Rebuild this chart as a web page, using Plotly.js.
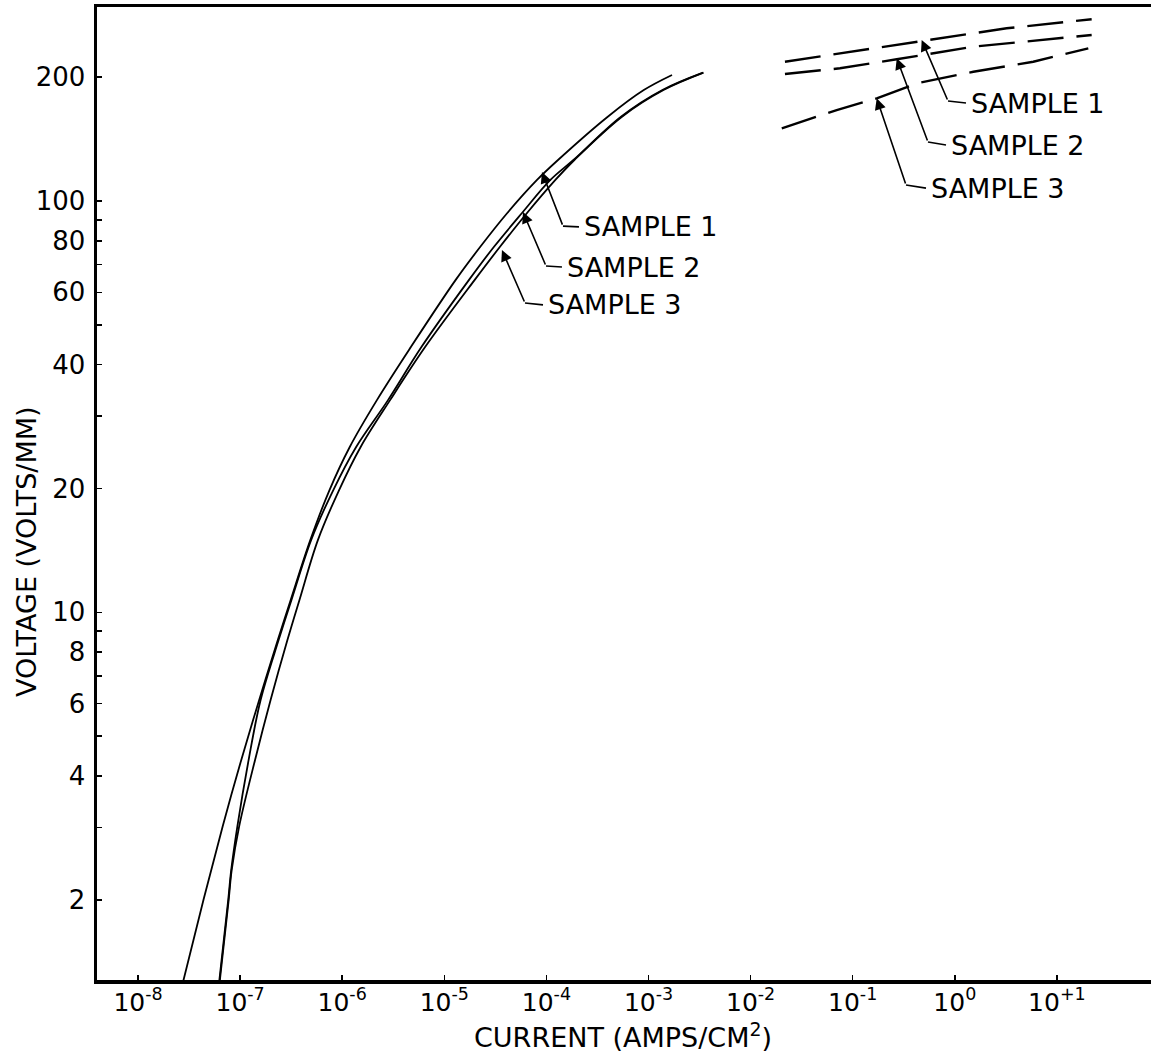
<!DOCTYPE html>
<html>
<head>
<meta charset="utf-8">
<script src="https://cdn.plot.ly/plotly-3.0.1.min.js"></script>
<style>html,body{margin:0;padding:0;background:#fff;}#chart{width:1151px;height:1064px;}</style>
</head>
<body>
<div id="chart"></div>
<script>
// ---- Data ----
// Solid curves: current (A/cm^2) vs voltage (V/mm)
const voltage1 = [1.25, 2.0, 3.02, 4.37, 6.12, 8.56, 10.7, 15.0, 19.8, 25.2, 32.8, 44.2, 64.3, 77.4, 93.5, 112.5, 125.8, 160.3, 186.1, 202.5];
const current1 = [2.734e-8, 4.38e-8, 6.755e-8, 1.025e-7, 1.538e-7, 2.340e-7, 3.123e-7, 4.88e-7, 7.49e-7, 1.182e-6, 2.187e-6, 4.72e-6, 1.293e-5, 2.252e-5, 4.14e-5, 8.09e-5, 1.299e-4, 3.99e-4, 8.99e-4, 1.699e-3];

const voltage2 = [1.25, 2.0, 2.36, 3.02, 4.37, 6.12, 8.56, 10.7, 15.0, 19.8, 25.2, 32.8, 44.2, 64.3, 77.4, 93.5, 112.5, 125.8, 160.3, 186.1, 205.1];
const current2 = [6.21e-8, 7.65e-8, 8.18e-8, 9.41e-8, 1.211e-7, 1.588e-7, 2.383e-7, 3.179e-7, 4.97e-7, 8.16e-7, 1.365e-6, 2.809e-6, 5.99e-6, 1.746e-5, 3.068e-5, 5.77e-5, 1.094e-4, 1.839e-4, 5.38e-4, 1.368e-3, 3.42e-3];

const voltage3 = [1.25, 2.0, 2.36, 3.02, 4.37, 6.12, 8.56, 10.7, 15.0, 19.8, 25.2, 32.8, 44.2, 64.3, 77.4, 93.5, 112.5, 125.8, 160.3, 186.1, 205.1];
const current3 = [6.28e-8, 7.73e-8, 8.27e-8, 9.80e-8, 1.399e-7, 1.989e-7, 2.906e-7, 3.808e-7, 5.79e-7, 9.30e-7, 1.511e-6, 2.944e-6, 6.51e-6, 1.985e-5, 3.51e-5, 6.46e-5, 1.225e-4, 1.880e-4, 5.50e-4, 1.403e-3, 3.46e-3];

// Dashed curves (high-current region)
const dashCurrent1 = [2.17e-2, 7.51e-2, 0.474, 3.22, 21.9];
const dashVoltage1 = [218.1, 228.6, 245.3, 263.0, 276.6];
const dashCurrent2 = [2.17e-2, 7.51e-2, 0.270, 1.52, 21.9];
const dashVoltage2 = [203.6, 210.2, 221.1, 237.2, 253.3];
const dashCurrent3 = [2.02e-2, 6.97e-2, 0.172, 0.424, 1.52, 5.87, 20.3];
const dashVoltage3 = [150.2, 166.4, 177.7, 193.2, 206.2, 218.1, 235.1];

// Tick labels
const xTickVals = [1e-8, 1e-7, 1e-6, 1e-5, 1e-4, 1e-3, 1e-2, 1e-1, 1e0, 1e1];
const xTickText = ['10<sup>-8</sup>', '10<sup>-7</sup>', '10<sup>-6</sup>', '10<sup>-5</sup>', '10<sup>-4</sup>', '10<sup>-3</sup>', '10<sup>-2</sup>', '10<sup>-1</sup>', '10<sup>0</sup>', '10<sup>+1</sup>'];
const yTickVals = [2, 4, 6, 8, 10, 20, 40, 60, 80, 100, 200];
const yTickText = ['2', '4', '6', '8', '10', '20', '40', '60', '80', '100', '200'];
const yMinorVals = [3, 5, 7, 9, 30, 50, 70, 90];

// Callout labels: text, arrow tip, knee, end of horizontal leader
const labelText = ['SAMPLE 1', 'SAMPLE 2', 'SAMPLE 3', 'SAMPLE 1', 'SAMPLE 2', 'SAMPLE 3'];
const tipI  = [9.05e-5, 5.90e-5, 3.67e-5, 0.474, 0.270, 0.1718];
const tipV  = [117.6, 94.0, 76.0, 246.3, 222.3, 177.7];
const kneeI = [1.454e-4, 9.91e-5, 6.17e-5, 0.858, 0.546, 0.3327];
const kneeV = [86.9, 69.5, 56.5, 175.0, 139.1, 109.4];
const endI  = [2.085e-4, 1.42e-4, 9.26e-5, 1.287, 0.820, 0.522];
const endV  = [86.5, 69.1, 55.9, 173.1, 136.8, 107.5];

// ---- Build ----
const FONT = 'DejaVu Sans, Liberation Sans, sans-serif';
const solid = {color: '#000', width: 1.8, shape: 'spline', smoothing: 1.0};
const dashed = {color: '#000', width: 2.4, dash: '36px,13px'};

const traces = [
  {x: current1, y: voltage1, mode: 'lines', line: solid, name: 'Sample 1'},
  {x: current2, y: voltage2, mode: 'lines', line: solid, name: 'Sample 2'},
  {x: current3, y: voltage3, mode: 'lines', line: solid, name: 'Sample 3'},
  {x: dashCurrent1, y: dashVoltage1, mode: 'lines', line: dashed, name: 'Sample 1 (high)'},
  {x: dashCurrent2, y: dashVoltage2, mode: 'lines', line: dashed, name: 'Sample 2 (high)'},
  {x: dashCurrent3, y: dashVoltage3, mode: 'lines', line: dashed, name: 'Sample 3 (high)'}
];

// leader horizontals
const lx = [], ly = [];
for (let i = 0; i < labelText.length; i++) {
  lx.push(kneeI[i], endI[i], null);
  ly.push(kneeV[i], endV[i], null);
}
traces.push({x: lx, y: ly, mode: 'lines', line: {color: '#000', width: 1.6}, hoverinfo: 'skip'});

const annotations = [];
for (let i = 0; i < labelText.length; i++) {
  annotations.push({
    x: Math.log10(tipI[i]), y: Math.log10(tipV[i]), xref: 'x', yref: 'y',
    ax: Math.log10(kneeI[i]), ay: Math.log10(kneeV[i]), axref: 'x', ayref: 'y',
    text: '', showarrow: true, arrowhead: 2, arrowsize: 1.4, arrowwidth: 1.6, arrowcolor: '#000', standoff: 0
  });
  annotations.push({
    x: Math.log10(endI[i]), y: Math.log10(endV[i]), xref: 'x', yref: 'y',
    text: labelText[i], showarrow: false, xanchor: 'left', yanchor: 'middle', xshift: 3,
    font: {family: FONT, size: 27, color: '#000'}
  });
}
annotations.push({
  text: 'VOLTAGE (VOLTS/MM)', xref: 'paper', yref: 'paper', x: -0.0674, y: 0.4409,
  textangle: -90, showarrow: false, xanchor: 'center', yanchor: 'middle',
  font: {family: FONT, size: 27, color: '#000'}
});
annotations.push({
  text: 'CURRENT (AMPS/CM<sup>2</sup>)', xref: 'paper', yref: 'paper', x: 0.4986, y: -0.0575,
  showarrow: false, xanchor: 'center', yanchor: 'middle',
  font: {family: FONT, size: 27, color: '#000'}
});

const layout = {
  width: 1151, height: 1064,
  margin: {l: 97, r: 0, t: 7, b: 84},
  paper_bgcolor: '#fff', plot_bgcolor: '#fff',
  showlegend: false,
  font: {family: FONT, color: '#000'},
  xaxis: {
    type: 'log', range: [-8.4016, 1.9216],
    tickmode: 'array', tickvals: xTickVals, ticktext: xTickText,
    ticks: 'inside', ticklen: 5, tickwidth: 1.5, tickcolor: '#000',
    showline: true, linewidth: 3.5, linecolor: '#000', mirror: true,
    showgrid: false, zeroline: false,
    tickfont: {family: FONT, size: 25, color: '#000'},
    ticklabelstandoff: -3
  },
  yaxis: {
    type: 'log', range: [0.106, 2.4717],
    tickmode: 'array', tickvals: yTickVals, ticktext: yTickText,
    ticks: 'inside', ticklen: 5, tickwidth: 1.5, tickcolor: '#000',
    minor: {tickmode: 'array', tickvals: yMinorVals, ticks: 'inside', ticklen: 5, tickwidth: 1.5, tickcolor: '#000', showgrid: false},
    showline: true, linewidth: 3.5, linecolor: '#000', mirror: false,
    showgrid: false, zeroline: false,
    tickfont: {family: FONT, size: 26, color: '#000'},
    ticklabelstandoff: 3
  },
  annotations: annotations
};

Plotly.newPlot('chart', traces, layout, {staticPlot: true, displayModeBar: false});
</script>
</body>
</html>
